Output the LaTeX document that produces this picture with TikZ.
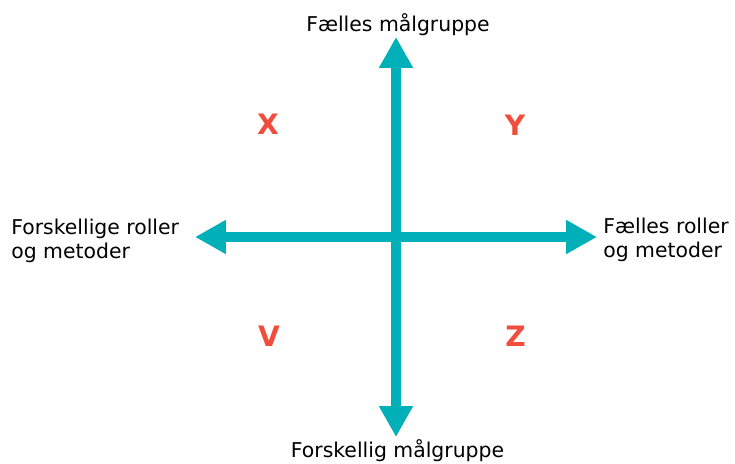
\documentclass[tikz,border=0pt]{standalone}
\usepackage{fontspec}
\setmainfont{DejaVu Sans}
\usetikzlibrary{arrows.meta}
\definecolor{axisteal}{RGB}{0,176,185}
\definecolor{quadred}{RGB}{242,76,60}
\begin{document}
\begin{tikzpicture}[
      axis/.style={draw=axisteal,line width=6.2pt,
        {Triangle[length=17.6pt,width=18.2pt]}-{Triangle[length=17.6pt,width=18.2pt]}},
      lbl/.style={font=\fontsize{11.6}{13.7}\selectfont,inner sep=0pt,align=left},
      quad/.style={font=\fontsize{16}{17}\selectfont\bfseries,text=quadred,inner sep=0pt}
    ]
    \useasboundingbox (-7.92,-4.54) rectangle (6.78,4.74);
    % ends of the two axes
    \coordinate (N) at (0,4);
    \coordinate (S) at (0,-4);
    \coordinate (W) at (-4.02,0);
    \coordinate (E) at (4.02,0);
    \draw[axis] (W) -- (E);
    \draw[axis] (S) -- (N);
    % axis labels
    \node[lbl,anchor=base] (top) at (0.04,4.1) {Fælles målgruppe};
    \node[lbl,anchor=base] (bot) at (0.03,-4.42) {Forskellig målgruppe};
    \node[lbl,anchor=base west] (lft) at (-7.7,-0.44) {Forskellige roller\\og metoder};
    \node[lbl,anchor=base west] (rgt) at (4.14,-0.42) {Fælles roller\\og metoder};
    % quadrants
    \node[quad] (qX) at (-2.56,2.25) {X};
    \node[quad] (qY) at (2.38,2.24) {Y};
    \node[quad] (qV) at (-2.54,-1.99) {V};
    \node[quad] (qZ) at (2.39,-1.99) {Z};
  \end{tikzpicture}
\end{document}
